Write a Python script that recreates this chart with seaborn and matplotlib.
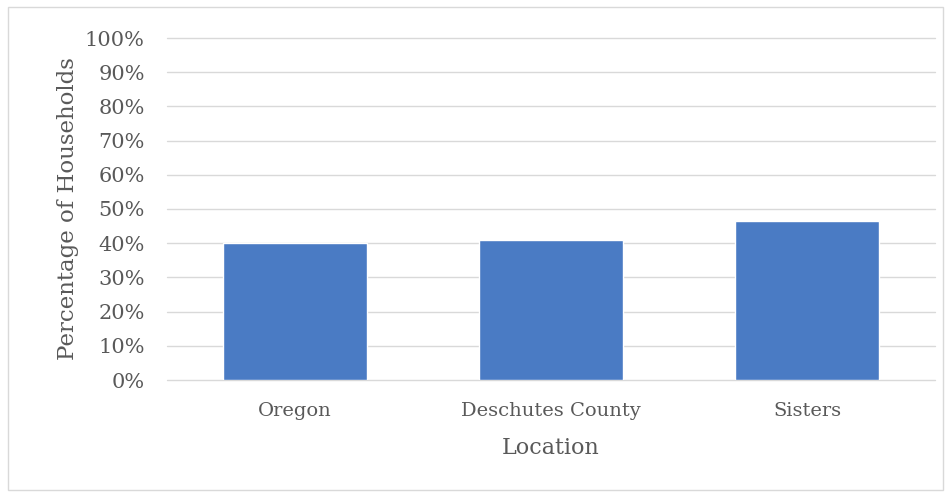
import matplotlib
matplotlib.use("Agg")
import matplotlib.pyplot as plt
import seaborn as sns
import pandas as pd
from matplotlib.patches import Rectangle
from matplotlib.ticker import PercentFormatter

# data
locations = ["Oregon", "Deschutes County", "Sisters"]
pct_households = [40, 41, 46.4]

df = pd.DataFrame({"Location": locations, "Percentage of Households": pct_households})

sns.set_theme(style="white")
plt.rcParams["font.family"] = ["DejaVu Serif", "Liberation Serif"]

fig = plt.figure(figsize=(9.51, 4.97), dpi=100)
ax = fig.add_axes([167 / 951, 1 - 380 / 497, (935 - 167) / 951, (380 - 38) / 497])

sns.barplot(data=df, x="Location", y="Percentage of Households", color="#4a7bc4",
            saturation=1, width=0.56, ax=ax, zorder=3)

ax.set_ylim(0, 100)
ax.set_yticks(range(0, 101, 10))
ax.yaxis.set_major_formatter(PercentFormatter(decimals=0))
ax.grid(axis="y", color="#d9d9d9", linewidth=1, zorder=0)
ax.set_axisbelow(True)
for line in ax.get_ygridlines():
    line.set_clip_on(False)
for s in ax.spines.values():
    s.set_visible(False)

grey = "#595959"
ax.tick_params(axis="y", colors=grey, labelsize=15, length=0, pad=16)
ax.tick_params(axis="x", colors=grey, labelsize=14, length=0, pad=16)
ax.set_xlabel("Location", fontsize=16, color=grey, labelpad=12)
ax.set_ylabel("Percentage of Households", fontsize=16.5, color=grey, labelpad=4)

# outer chart border
fig.patches.append(Rectangle((8 / 951, 7 / 497), 935 / 951, 483 / 497,
                             transform=fig.transFigure, fill=False,
                             edgecolor="#d9d9d9", linewidth=1))

fig.savefig("out.png", dpi=100)
